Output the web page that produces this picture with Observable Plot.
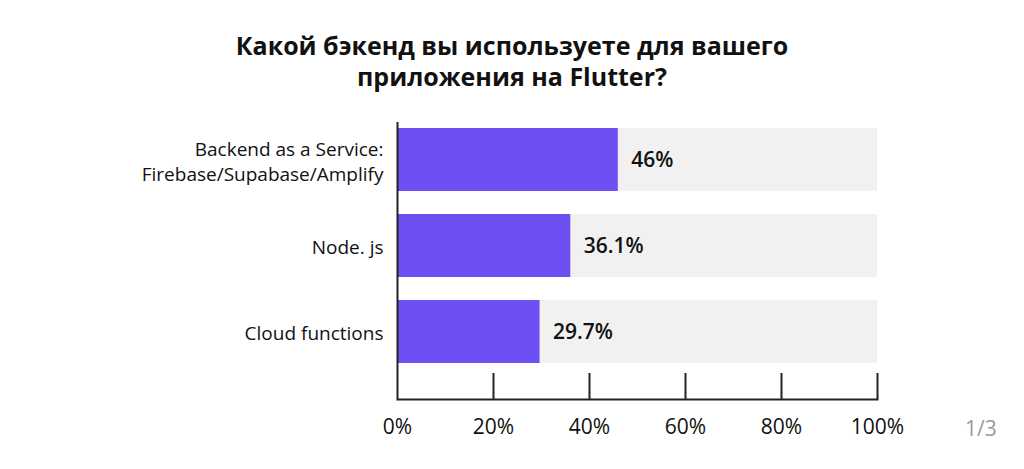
<!DOCTYPE html>
<html>
<head>
<meta charset="utf-8">
<script src="https://cdn.jsdelivr.net/npm/d3@7"></script>
<script src="https://cdn.jsdelivr.net/npm/@observablehq/plot@0.6"></script>
<style>
  html, body { margin: 0; padding: 0; background: #fff; }
  body { width: 1024px; height: 469px; position: relative; overflow: hidden; font-family: "Open Sans", sans-serif; }
  #title { position: absolute; left: 0; width: 1024px; top: 30px; text-align: center; font-size: 25px; font-weight: 700; line-height: 31px; color: #111; }
  #page { position: absolute; left: 965px; top: 414px; font-size: 21px; color: #9a9a9a; }
  #chart { position: absolute; left: 0; top: 0; }
</style>
</head>
<body>
<div id="chart"></div>
<div id="title">Какой бэкенд вы используете для вашего<br>приложения на Flutter?</div>
<div id="page">1/3</div>
<script>
const categories = ["Backend as a Service:\nFirebase/Supabase/Amplify", "Node. js", "Cloud functions"];
const values = [46, 36.1, 29.7];
const valueLabels = ["46%", "36.1%", "29.7%"];
const xTicks = [0, 20, 40, 60, 80, 100];

const data = categories.map((c, i) => ({category: c, value: values[i], label: valueLabels[i]}));

const chart = Plot.plot({
  width: 1024,
  height: 469,
  marginLeft: 397,
  marginRight: 147,
  marginTop: 122,
  marginBottom: 70,
  style: {fontFamily: "Open Sans, sans-serif", color: "#111", background: "transparent"},
  x: {domain: [0, 100], ticks: xTicks},
  y: {domain: categories, paddingInner: 0.27, paddingOuter: 0.236, align: 0.146, label: null},
  marks: [
    Plot.barX(data, {y: "category", x1: 0, x2: 100, fill: "#f1f1f1"}),
    Plot.barX(data, {y: "category", x1: 0, x2: "value", fill: "#6e4ff2"}),
    Plot.text(data, {y: "category", x: "value", text: "label", dx: 13, textAnchor: "start", fontSize: 21, fontWeight: 600, fill: "#111"}),
    Plot.ruleX([0], {stroke: "#222", strokeWidth: 2}),
    Plot.ruleX(xTicks.slice(1), {stroke: "#222", strokeWidth: 2, insetTop: 251}),
    Plot.frame({anchor: "bottom", stroke: "#222", strokeWidth: 2}),
    Plot.axisX({ticks: xTicks, tickSize: 0, tickPadding: 20, fontSize: 21, tickFormat: d => d + "%", label: null}),
    Plot.axisY({tickSize: 0, tickPadding: 14, fontSize: 19, lineHeight: 1.32, label: null})
  ]
});
document.getElementById("chart").appendChild(chart);
</script>
</body>
</html>
